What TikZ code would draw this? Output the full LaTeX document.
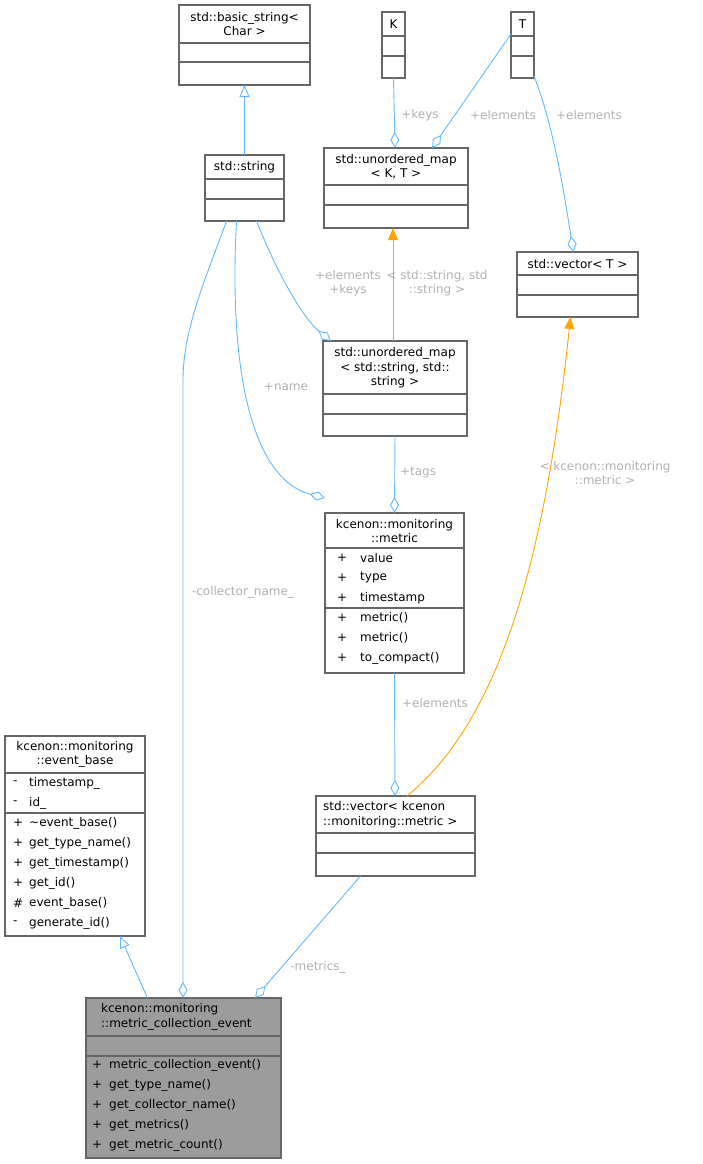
\documentclass[tikz,border=0pt]{standalone}
\usepackage{fontspec}
\setmainfont{DejaVu Sans}
\usetikzlibrary{arrows.meta,calc}
\definecolor{eblue}{HTML}{63B8FF}
\definecolor{eorange}{HTML}{FFA500}
\definecolor{bgray}{HTML}{666666}
\definecolor{lgray}{HTML}{B0B0B0}
\begin{document}
\begin{tikzpicture}[x=1pt,y=-1pt,
  every node/.style={font=\fontsize{12}{14.5}\selectfont, inner sep=0pt},
  box/.style={draw=bgray, line width=1.2pt, anchor=north west, outer sep=0pt},
  ttl/.style={align=center},
  mem/.style={anchor=west},
  lbl/.style={text=lgray, align=center},
  agg/.style={draw=eblue, line width=0.9pt, -{Diamond[open,length=16pt,width=9pt]}},
  inh/.style={draw=eblue, line width=0.9pt, -{Triangle[open,length=12pt,width=10pt]}},
  tpl/.style={draw=eorange, line width=0.9pt, -{Triangle[length=12pt,width=10pt]}}]
\useasboundingbox (0,0) rectangle (702,1164);
\newcommand{\bx}[6]{% name x1 y1 x2 y2 fill
  \node[box, fill=#6, minimum width={(#4-#2)*1pt}, minimum height={(#5-#3)*1pt}] (#1) at (#2,#3) {};}
\newcommand{\sep}[3]{\draw[bgray, line width=1.2pt] (#1.west |- 0,#2) -- (#1.east |- 0,#2);}
% boxes
\bx{bs}{179}{5}{310}{85}{white}\sep{bs}{43}{}\sep{bs}{62}{}
\node[ttl] at (244.5,24) {std::basic\_string<\\Char >};
\bx{K}{382}{12}{405}{78}{white}\sep{K}{36}{}\sep{K}{56}{}
\node at (393.5,24) {K};
\bx{T}{511}{12}{534}{78}{white}\sep{T}{36}{}\sep{T}{56}{}
\node at (522.5,24) {T};
\bx{str}{205}{155}{284}{221}{white}\sep{str}{179}{}\sep{str}{199}{}
\node at (244.5,167) {std::string};
\bx{umkt}{324}{148}{468}{228}{white}\sep{umkt}{185}{}\sep{umkt}{205}{}
\node[ttl] at (396,166.5) {std::unordered\_map\\< K, T >};
\bx{vt}{517}{252}{638}{317}{white}\sep{vt}{275}{}\sep{vt}{295}{}
\node at (577.5,264) {std::vector< T >};
\bx{ums}{323}{341}{467}{436}{white}\sep{ums}{394}{}\sep{ums}{414}{}
\node[ttl] at (395,368) {std::unordered\_map\\< std::string, std::\\string >};
\bx{met}{325}{513}{464}{673}{white}\sep{met}{548}{}\sep{met}{608}{}
\node[ttl] at (394.5,531) {kcenon::monitoring\\::metric};
\foreach \y/\s/\t in {558/+/value,578/+/type,598/+/timestamp,618/+/metric(),638/+/metric(),658/+/to\_compact()}
  {\node[mem] at (337,\y) {\s}; \node[mem] at (360,\y) {\t};}
\bx{eb}{5}{736}{145}{936}{white}\sep{eb}{773}{}\sep{eb}{813}{}
\node[ttl] at (75,754.5) {kcenon::monitoring\\::event\_base};
\foreach \y/\s/\t in {783/-/timestamp\_,803/-/id\_,823/+/\textasciitilde event\_base(),843/+/get\_type\_name(),863/+/get\_timestamp(),883/+/get\_id(),903/\#/event\_base(),923/-/generate\_id()}
  {\node[mem] at (13,\y) {\s}; \node[mem] at (29,\y) {\t};}
\bx{vm}{316}{796}{475}{876}{white}\sep{vm}{833}{}\sep{vm}{853}{}
\node[align=left, anchor=west] at (323,814.5) {std::vector< kcenon\\::monitoring::metric >};
\bx{main}{86}{998}{281}{1158}{bgray!65}\sep{main}{1036}{}\sep{main}{1056}{}
\node[align=left, anchor=west] at (101,1017) {kcenon::monitoring\\::metric\_collection\_event};
\foreach \y/\t in {1065/metric\_collection\_event(),1085/get\_type\_name(),1105/get\_collector\_name(),1125/get\_metrics(),1145/get\_metric\_count()}
  {\node[mem] at (92,\y) {+}; \node[mem] at (109,\y) {\t};}
% edges
\draw[inh] (str.north) -- (bs.south);
\draw[agg] (K.south) -- ([xshift=-1pt]umkt.north);
\draw[agg] ([yshift=-22pt]T.north west) -- ([xshift=36pt]umkt.north);
\draw[agg] ([yshift=2pt]T.south east) .. controls (555,130) and (565,200) .. ([xshift=-4pt]vt.north);
\draw[tpl] ([xshift=-2pt]ums.north) -- ([xshift=-3pt]umkt.south);
\draw[agg] ([xshift=12pt]str.south) .. controls (280,280) and (305,320) .. ([xshift=8pt]ums.north west);
\draw[agg] ([xshift=-8pt]str.south) .. controls (228,380) and (255,480) .. ([yshift=15pt]met.north west);
\draw[agg] ([xshift=-18pt]str.south) .. controls (205,280) and (183,330) .. (183,380) -- (main.north -| 183,0);
\draw[agg] (ums.south) -- (met.north);
\draw[agg] (met.south) -- ([xshift=-0.5pt]vm.north);
\draw[tpl] ([xshift=-68pt]vm.north east) .. controls (500,720) and (545,560) .. ([xshift=-7pt]vt.south);
\draw[agg] ([xshift=-35pt]vm.south) -- ([xshift=-26pt]main.north east);
\draw[inh] ([xshift=-36pt]main.north) -- ([xshift=45pt]eb.south);
% labels
\node[lbl] at (420,115) {+keys};
\node[lbl] at (503,115) {+elements};
\node[lbl] at (589,115) {+elements};
\node[lbl] at (348,283) {+elements\\+keys};
\node[lbl] at (437,283) {< std::string, std\\::string >};
\node[lbl] at (286,387) {+name};
\node[lbl] at (418,473) {+tags};
\node[lbl] at (605,473) {< kcenon::monitoring\\::metric >};
\node[lbl] at (243,592) {-collector\_name\_};
\node[lbl] at (435,703) {+elements};
\node[lbl] at (318,967) {-metrics\_};
\end{tikzpicture}
\end{document}
